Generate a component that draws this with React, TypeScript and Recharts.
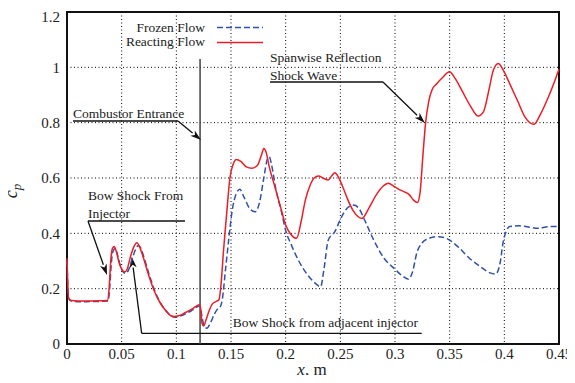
import { LineChart, Line, XAxis, YAxis, CartesianGrid, ReferenceLine, ReferenceDot, ReferenceArea } from "recharts";

const xTicks = [0, 0.05, 0.1, 0.15, 0.2, 0.25, 0.3, 0.35, 0.4, 0.45];
const yTicks = [0, 0.2, 0.4, 0.6, 0.8, 1, 1.2];

// Reacting flow (red, solid)
const reactX = [0, 0.0015, 0.004, 0.015, 0.03, 0.037, 0.0385, 0.04, 0.0415, 0.0433, 0.045, 0.048, 0.051, 0.053, 0.055, 0.058, 0.061, 0.0638, 0.066, 0.07, 0.075, 0.08, 0.085, 0.09, 0.095, 0.098, 0.102, 0.108, 0.115, 0.1215, 0.1225, 0.1235, 0.125, 0.127, 0.13, 0.133, 0.137, 0.139, 0.141, 0.143, 0.146, 0.149, 0.152, 0.155, 0.159, 0.164, 0.169, 0.174, 0.178, 0.18, 0.182, 0.185, 0.19, 0.195, 0.2, 0.205, 0.21, 0.214, 0.218, 0.222, 0.226, 0.23, 0.235, 0.239, 0.242, 0.245, 0.248, 0.252, 0.257, 0.262, 0.2697, 0.276, 0.283, 0.289, 0.294, 0.299, 0.304, 0.308, 0.313, 0.317, 0.3205, 0.323, 0.3255, 0.328, 0.331, 0.334, 0.338, 0.344, 0.3497, 0.355, 0.362, 0.369, 0.376, 0.381, 0.386, 0.39, 0.3945, 0.399, 0.405, 0.412, 0.419, 0.427, 0.433, 0.44, 0.446, 0.45];
const reactY = [0.31, 0.165, 0.157, 0.155, 0.156, 0.157, 0.2, 0.3, 0.345, 0.352, 0.335, 0.29, 0.265, 0.261, 0.27, 0.315, 0.35, 0.366, 0.355, 0.31, 0.245, 0.19, 0.15, 0.122, 0.102, 0.099, 0.102, 0.113, 0.128, 0.143, 0.12, 0.075, 0.065, 0.085, 0.12, 0.145, 0.155, 0.16, 0.22, 0.33, 0.47, 0.6, 0.65, 0.667, 0.66, 0.64, 0.635, 0.645, 0.685, 0.707, 0.695, 0.64, 0.57, 0.5, 0.43, 0.395, 0.382, 0.44, 0.52, 0.57, 0.6, 0.607, 0.598, 0.593, 0.607, 0.619, 0.605, 0.57, 0.52, 0.48, 0.454, 0.49, 0.54, 0.57, 0.581, 0.57, 0.558, 0.551, 0.54, 0.52, 0.511, 0.55, 0.68, 0.8, 0.88, 0.92, 0.94, 0.965, 0.984, 0.96, 0.91, 0.86, 0.824, 0.84, 0.92, 0.99, 1.014, 0.99, 0.94, 0.88, 0.82, 0.794, 0.83, 0.89, 0.95, 0.993];

// Frozen flow (blue, dashed)
const frozenX = [0, 0.0015, 0.004, 0.015, 0.03, 0.0375, 0.039, 0.0405, 0.042, 0.0443, 0.046, 0.049, 0.052, 0.054, 0.056, 0.059, 0.062, 0.065, 0.067, 0.071, 0.076, 0.081, 0.086, 0.091, 0.096, 0.099, 0.103, 0.109, 0.115, 0.1215, 0.123, 0.125, 0.128, 0.131, 0.135, 0.138, 0.14, 0.142, 0.145, 0.148, 0.151, 0.155, 0.158, 0.162, 0.167, 0.172, 0.176, 0.18, 0.183, 0.185, 0.187, 0.191, 0.196, 0.2, 0.205, 0.212, 0.22, 0.227, 0.232, 0.235, 0.239, 0.245, 0.25, 0.256, 0.262, 0.267, 0.272, 0.28, 0.29, 0.3, 0.307, 0.3123, 0.316, 0.32, 0.3245, 0.331, 0.3397, 0.348, 0.358, 0.368, 0.378, 0.387, 0.392, 0.396, 0.399, 0.402, 0.405, 0.414, 0.422, 0.431, 0.44, 0.45];
const frozenY = [0.3, 0.165, 0.155, 0.153, 0.154, 0.155, 0.2, 0.29, 0.335, 0.345, 0.325, 0.28, 0.258, 0.255, 0.265, 0.3, 0.335, 0.355, 0.35, 0.305, 0.24, 0.185, 0.145, 0.118, 0.1, 0.097, 0.1, 0.11, 0.123, 0.138, 0.11, 0.07, 0.057, 0.075, 0.11, 0.128, 0.133, 0.16, 0.27, 0.38, 0.48, 0.545, 0.559, 0.53, 0.49, 0.478, 0.51, 0.6, 0.665, 0.677, 0.65, 0.56, 0.48, 0.41, 0.36, 0.3, 0.25, 0.22, 0.207, 0.27, 0.376, 0.406, 0.45, 0.49, 0.502, 0.49, 0.45, 0.38, 0.31, 0.27, 0.245, 0.234, 0.26, 0.33, 0.364, 0.382, 0.388, 0.38, 0.35, 0.31, 0.28, 0.257, 0.253, 0.29, 0.37, 0.41, 0.425, 0.427, 0.423, 0.418, 0.424, 0.425];

const reacting = reactX.map((x, i) => ({ x, cp: reactY[i] }));
const frozen = frozenX.map((x, i) => ({ x, cp: frozenY[i] }));

// annotation text: [label, x, y] (left edge / baseline in data units)
const noteTexts: [string, number, number][] = [
    ["Combustor Entrance", 0.0055, 0.817],
    ["Spanwise Reflection", 0.1857, 1.019],
    ["Shock Wave", 0.1857, 0.954],
    ["Bow Shock From", 0.0192, 0.52],
    ["Injector", 0.0192, 0.455],
    ["Bow Shock from adjacent injector", 0.1516, 0.0614],
];
// underlines: [x1, y1, x2, y2]
const noteLines: number[][] = [
    [0.0055, 0.806, 0.1015, 0.806],
    [0.1857, 0.947, 0.289, 0.947],
    [0.0192, 0.4446, 0.1079, 0.4446],
    [0.0683, 0.0387, 0.3244, 0.0387],
];
// arrows: [fromX, fromY, toX, toY]
const noteArrows: number[][] = [
    [0.1015, 0.806, 0.1226, 0.737],
    [0.289, 0.947, 0.3274, 0.799],
    [0.0192, 0.4446, 0.0366, 0.249],
    [0.0683, 0.0387, 0.0592, 0.3155],
];
const entranceX = 0.1217;

const FONT = "Liberation Serif";
const RED = "#ee1c25";
const BLUE = "#2f52a8";

const Arrow = (props: any) => {
    const { x1, y1, x2, y2 } = props;
    const dx = x2 - x1, dy = y2 - y1;
    const len = Math.hypot(dx, dy) || 1;
    const ux = dx / len, uy = dy / len;
    const L = 11, W = 3.5;
    const bx = x2 - ux * L, by = y2 - uy * L;
    return (
        <g>
            <line x1={x1} y1={y1} x2={bx} y2={by} stroke="#111" strokeWidth={1.3} />
            <polygon
                points={`${x2},${y2} ${bx - uy * W},${by + ux * W} ${bx + ux * 3},${by + uy * 3} ${bx + uy * W},${by - ux * W}`}
                fill="#111"
            />
        </g>
    );
};

const NoteText = (label: string) => (props: any) => (
    <text x={props.cx} y={props.cy} style={{ fontFamily: FONT }} fontSize={13.5} fill="#222">
        {label}
    </text>
);

export default function App() {
    return (
        <div style={{ position: "relative", width: 567, height: 375, marginBottom: -8, fontFamily: FONT }}>
            <LineChart width={567} height={375} margin={{ top: 4, right: 16, bottom: 0, left: 9 }} style={{ fontFamily: FONT }}>
                <CartesianGrid stroke="#000" strokeDasharray="1 2.5" />
                <XAxis
                    type="number"
                    dataKey="x"
                    domain={[0, 0.45]}
                    ticks={xTicks}
                    height={39}
                    tickLine={false}
                    tickSize={3}
                    tickMargin={1}
                    axisLine={false}
                    tick={{ fontFamily: FONT, fontSize: 15, fill: "#222" }}
                    label={{
                        content: () => (
                            <text x={304} y={367} textAnchor="middle" style={{ fontFamily: FONT }} fontSize={17} fill="#222">
                                <tspan fontStyle="italic">x</tspan>, m
                            </text>
                        ),
                    }}
                />
                <YAxis
                    type="number"
                    domain={[0, 1.2]}
                    ticks={yTicks}
                    width={50}
                    tickLine={false}
                    tickSize={5}
                    tickMargin={2}
                    axisLine={false}
                    tick={{ fontFamily: FONT, fontSize: 15, fill: "#222" }}
                />
                <ReferenceArea x1={0} x2={0.45} y1={0} y2={1.2} fill="none" stroke="#111" strokeWidth={2} />
                <ReferenceLine
                    segment={[{ x: entranceX, y: 0 }, { x: entranceX, y: 1.03 }]}
                    stroke="#444"
                    strokeWidth={1.5}
                />
                {noteLines.map((s, i) => (
                    <ReferenceLine
                        key={"l" + i}
                        segment={[{ x: s[0], y: s[1] }, { x: s[2], y: s[3] }]}
                        stroke="#111"
                        strokeWidth={1.3}
                    />
                ))}
                {noteArrows.map((s, i) => (
                    <ReferenceLine
                        key={"a" + i}
                        segment={[{ x: s[0], y: s[1] }, { x: s[2], y: s[3] }]}
                        shape={Arrow}
                    />
                ))}
                {noteTexts.map(([label, x, y], i) => (
                    <ReferenceDot key={"t" + i} x={x} y={y} r={0} shape={NoteText(label)} />
                ))}
                <Line
                    data={frozen}
                    dataKey="cp"
                    type="monotone"
                    stroke={BLUE}
                    strokeWidth={1.5}
                    strokeDasharray="6 3"
                    dot={false}
                    isAnimationActive={false}
                />
                <Line
                    data={reacting}
                    dataKey="cp"
                    type="monotone"
                    stroke={RED}
                    strokeWidth={1.5}
                    dot={false}
                    isAnimationActive={false}
                />
            </LineChart>
            <div style={{ position: "absolute", left: -8, top: -8, pointerEvents: "none" }}>
                <svg width={575} height={383} style={{ fontFamily: FONT }}>
                    <text transform="translate(17,191) rotate(-90)" textAnchor="middle" fontSize={18} fontStyle="italic" fill="#222">
                        c<tspan fontSize={13} dy={4}>p</tspan>
                    </text>
                    <text x={205} y={32} textAnchor="end" fontSize={13.5} fill="#222">Frozen Flow</text>
                    <line x1={217} y1={27.5} x2={263} y2={27.5} stroke={BLUE} strokeWidth={1.5} strokeDasharray="6 3" />
                    <text x={205} y={46} textAnchor="end" fontSize={13.5} fill="#222">Reacting Flow</text>
                    <line x1={217} y1={42.5} x2={263} y2={42.5} stroke={RED} strokeWidth={1.5} />
                </svg>
            </div>
        </div>
    );
}
